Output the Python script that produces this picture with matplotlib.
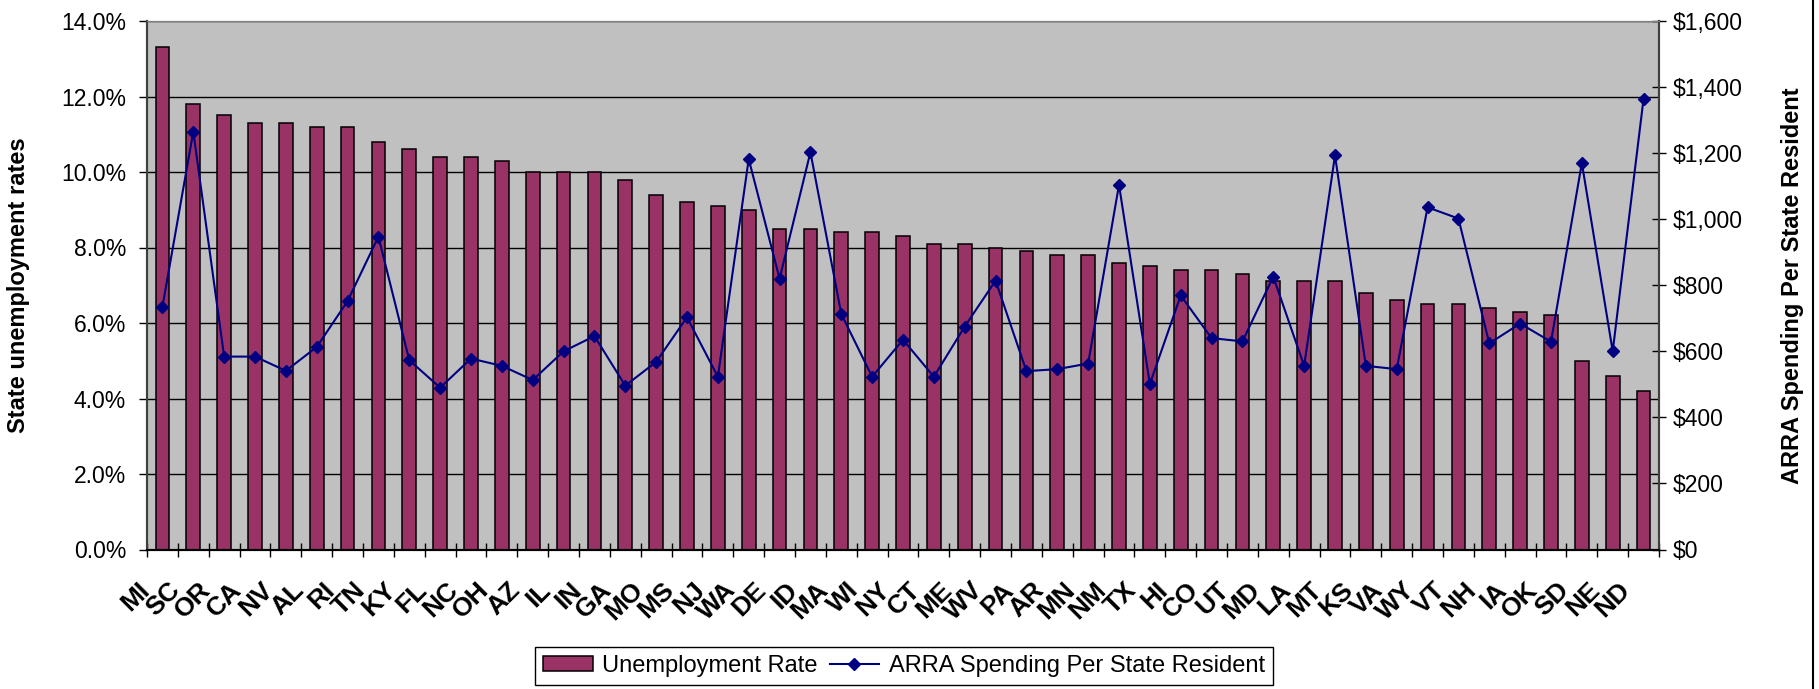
import numpy as np
import matplotlib.pyplot as plt
import matplotlib.transforms as mtransforms
from matplotlib.lines import Line2D
from matplotlib.ticker import FuncFormatter, MultipleLocator, FixedLocator

# data
states = ['MI', 'SC', 'OR', 'CA', 'NV', 'AL', 'RI', 'TN', 'KY', 'FL', 'NC', 'OH', 'AZ',
          'IL', 'IN', 'GA', 'MO', 'MS', 'NJ', 'WA', 'DE', 'ID', 'MA', 'WI', 'NY', 'CT',
          'ME', 'WV', 'PA', 'AR', 'MN', 'NM', 'TX', 'HI', 'CO', 'UT', 'MD', 'LA', 'MT',
          'KS', 'VA', 'WY', 'VT', 'NH', 'IA', 'OK', 'SD', 'NE', 'ND']
unemployment_rate = [13.3, 11.8, 11.5, 11.3, 11.3, 11.2, 11.2, 10.8, 10.6, 10.4, 10.4, 10.3,
                     10.0, 10.0, 10.0, 9.8, 9.4, 9.2, 9.1, 9.0, 8.5, 8.5, 8.4, 8.4, 8.3, 8.1,
                     8.1, 8.0, 7.9, 7.8, 7.8, 7.6, 7.5, 7.4, 7.4, 7.3, 7.1, 7.1, 7.1, 6.8,
                     6.6, 6.5, 6.5, 6.4, 6.3, 6.2, 5.0, 4.6, 4.2]
arra_per_resident = [735, 1265, 584, 584, 541, 613, 752, 947, 573, 490, 578, 556, 513,
                     600, 646, 496, 568, 703, 523, 1182, 820, 1203, 713, 523, 635, 523,
                     675, 814, 540, 546, 563, 1104, 501, 769, 640, 630, 826, 556, 1193,
                     556, 546, 1036, 1002, 624, 684, 629, 1170, 600, 1365]

plt.rcParams['font.family'] = ['Liberation Sans', 'DejaVu Sans']

W, H = 1819, 689
fig = plt.figure(figsize=(W / 100, H / 100), dpi=100)
ax = fig.add_axes([147 / W, 1 - 549.5 / H, (1659 - 147) / W, (549.5 - 21) / H])

x = np.arange(len(states))
ax.set_facecolor('#C0C0C0')
bars = ax.bar(x, unemployment_rate, width=0.44, color='#993366', edgecolor='black',
              linewidth=1.1, zorder=2, label='Unemployment Rate')
ax.set_xlim(-0.5, len(states) - 0.5)
ax.set_ylim(0, 14)
ax.yaxis.set_major_locator(MultipleLocator(2))
ax.yaxis.set_major_formatter(FuncFormatter(lambda v, p: f'{v:.1f}%'))
ax.yaxis.grid(True, color='black', linewidth=1, zorder=1)
ax.set_axisbelow(True)

ax.set_xticks(x)
ax.set_xticklabels(states, rotation=45, ha='right', va='baseline', rotation_mode='anchor',
                   fontweight='bold', fontsize=19)
ax.xaxis.set_minor_locator(FixedLocator(np.arange(-0.5, len(states), 1.0)))
ax.tick_params(axis='x', which='major', length=0, pad=30)
ax.tick_params(axis='x', which='minor', direction='inout', length=10, width=1)
ax.tick_params(axis='y', direction='out', length=6, width=1, pad=9, labelsize=16.5)
shift = mtransforms.ScaledTranslation(-0.12, 0, fig.dpi_scale_trans)
for lab in ax.get_xticklabels():
    lab.set_transform(lab.get_transform() + shift)

ax.set_ylabel('State unemployment rates', fontsize=17, fontweight='bold')
ax.yaxis.label.set_va('center')
ax.yaxis.set_label_coords(-0.0847, 0.5)

ax2 = ax.twinx()
line, = ax2.plot(x, arra_per_resident, color='#000080', marker='D', markersize=5.8,
                 linewidth=1.5, zorder=3, label='ARRA Spending Per State Resident')
ax2.set_ylim(0, 1600)
ax2.yaxis.set_major_locator(MultipleLocator(200))
ax2.yaxis.set_major_formatter(FuncFormatter(lambda v, p: f'${v:,.0f}'))
ax2.tick_params(axis='y', direction='inout', length=10, width=1, pad=5, labelsize=16.5)
ax2.set_ylabel('ARRA Spending Per State Resident', fontsize=17, fontweight='bold',
               rotation=90)
ax2.yaxis.label.set_va('center')
ax2.yaxis.set_label_coords(1.0886, 0.5)

for a in (ax, ax2):
    a.spines['top'].set_color('#808080')
    a.spines['left'].set_color('#404040')
    a.spines['left'].set_linewidth(1.5)
    a.spines['right'].set_color('#404040')
    a.spines['right'].set_linewidth(1.5)
    a.spines['bottom'].set_color('black')
    a.spines['bottom'].set_linewidth(1.5)

leg = fig.legend([bars, line], ['Unemployment Rate', 'ARRA Spending Per State Resident'],
                 loc='center', bbox_to_anchor=(904 / W, 1 - 666 / H), ncol=2,
                 fontsize=17, frameon=True, fancybox=False, edgecolor='black',
                 framealpha=1, handlelength=2.1, handleheight=0.6, handletextpad=0.4,
                 columnspacing=0.5, borderpad=0.35)
leg.get_frame().set_linewidth(1)

# outer chart border on the right
fig.add_artist(Line2D([1813 / W, 1813 / W], [0, 1], transform=fig.transFigure,
                      color='black', linewidth=1.5))

fig.savefig('out.png', dpi=100)
